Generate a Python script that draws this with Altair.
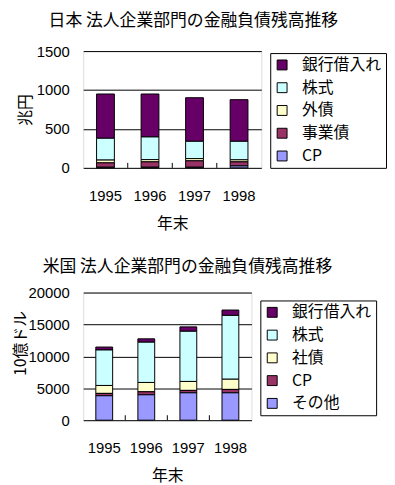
import altair as alt
import pandas as pd

years = ["1995", "1996", "1997", "1998"]

# Japan (兆円) — series listed top of stack first
jp_series = ["銀行借入れ", "株式", "外債", "事業債", "CP"]
jp_colors = ["#660066", "#CCFFFF", "#FFFFCC", "#993366", "#9999FF"]
jp_bank = [569, 552, 560, 535]
jp_stock = [280, 291, 222, 238]
jp_foreign = [36, 29, 29, 26]
jp_business = [56, 69, 82, 52]
jp_cp = [8, 8, 8, 25]

# USA (10億ドル)
us_series = ["銀行借入れ", "株式", "社債", "CP", "その他"]
us_colors = ["#660066", "#CCFFFF", "#FFFFCC", "#993366", "#9999FF"]
us_bank = [460, 530, 690, 840]
us_stock = [5560, 6310, 7860, 10000]
us_bond = [1240, 1460, 1400, 1600]
us_cp = [370, 470, 380, 530]
us_other = [3830, 3980, 4290, 4290]

jp_ticks = [0, 500, 1000, 1500]
us_ticks = [0, 5000, 10000, 15000, 20000]

JP_FONT = "Noto Sans CJK JP"
NUM_FONT = "Liberation Sans"


def to_long(names, values):
    rows = []
    n = len(names)
    for i, (name, vals) in enumerate(zip(names, values)):
        for yr, v in zip(years, vals):
            rows.append({"year": yr, "series": name, "value": v, "order": n - 1 - i})
    return pd.DataFrame(rows)


def x_axis():
    return alt.Axis(title="年末", labelAngle=0, domain=False, ticks=False,
                    labelPadding=21, labelFont=NUM_FONT, labelFontSize=15,
                    labelColor="black", titleFont=JP_FONT, titleFontSize=16,
                    titleFontWeight="normal", titleColor="black", titlePadding=12)


def panel(df, names, colors, title, ytitle, ticks, width, height,
          title_dx, title_offset, legend_x, legend_y, ytitle_pad, ytitle_y=None):
    yaxis_kwargs = dict(
        values=ticks, format="d", title=ytitle, grid=True, gridColor="black",
        gridOpacity=1, gridWidth=1, domain=False, ticks=False, labelPadding=14,
        labelFont=NUM_FONT, labelFontSize=15, labelColor="black",
        titleFont=JP_FONT, titleFontSize=16, titleFontWeight="normal",
        titleColor="black", titlePadding=ytitle_pad,
    )
    if ytitle_y is not None:
        yaxis_kwargs["titleY"] = ytitle_y
    bars = alt.Chart(df).mark_bar(
        width={"band": 0.4}, stroke="black", strokeWidth=1
    ).encode(
        x=alt.X("year:N", sort=years,
                scale=alt.Scale(paddingInner=0, paddingOuter=0),
                axis=x_axis()),
        y=alt.Y("value:Q", stack="zero",
                scale=alt.Scale(domain=[ticks[0], ticks[-1]], nice=False),
                axis=alt.Axis(**yaxis_kwargs)),
        color=alt.Color("series:N",
                        scale=alt.Scale(domain=names, range=colors),
                        legend=alt.Legend(
                            title=None, orient="none", legendX=legend_x, legendY=legend_y,
                            symbolType="square", symbolSize=100,
                            symbolStrokeColor="black", symbolStrokeWidth=1,
                            labelFont=JP_FONT, labelFontSize=16, labelColor="black",
                            labelOffset=12, padding=4, rowPadding=7,
                            strokeColor="black", fillColor="white")),
        order=alt.Order("order:Q", sort="ascending"),
    )
    tick_df = pd.DataFrame({"year": years[1:]})
    rules = alt.Chart(tick_df).mark_rule(color="black", strokeWidth=1).encode(
        x=alt.X("year:N", sort=years, bandPosition=0, axis=x_axis()),
        y=alt.value(height - 5),
        y2=alt.value(height),
    )
    return alt.layer(bars, rules).properties(
        width=width, height=height,
        title=alt.TitleParams(title, anchor="start", frame="group", dx=title_dx,
                              offset=title_offset, font=JP_FONT, fontSize=17,
                              fontWeight="normal", color="black"),
    )


jp_df = to_long(jp_series, [jp_bank, jp_stock, jp_foreign, jp_business, jp_cp])
us_df = to_long(us_series, [us_bank, us_stock, us_bond, us_cp, us_other])

top = panel(jp_df, jp_series, jp_colors, "日本 法人企業部門の金融負債残高推移", "兆円",
            jp_ticks, 180, 118, -35, 14, 189, 2, 3)
bottom = panel(us_df, us_series, us_colors, "米国 法人企業部門の金融負債残高推移", "10億ドル",
               us_ticks, 170, 129, -41, 10, 179, 8, 0, 51)

chart = alt.concat(top, bottom, columns=1, spacing=25, align="none").resolve_scale(
    color="independent", x="independent", y="independent"
).properties(
    padding={"left": 3, "top": 1, "right": 0, "bottom": 4}
).configure_view(
    fill="#C0C0C0", stroke="black", strokeWidth=1
).configure(background="white")

chart.save("out.html", embed_options={"renderer": "svg", "actions": False})
